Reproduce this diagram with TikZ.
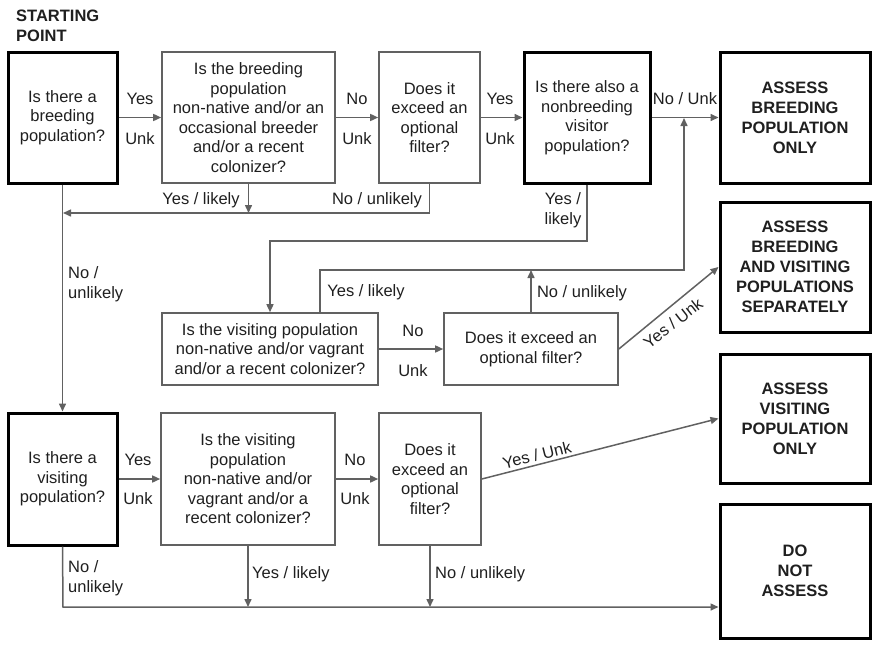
\documentclass[tikz,border=0pt]{standalone}
\usepackage{fontspec}
\setmainfont{Liberation Sans}
\usetikzlibrary{arrows.meta}
\definecolor{ink}{rgb}{0.12,0.12,0.12}
\definecolor{linegray}{rgb}{0.38,0.38,0.38}
\begin{document}
\begin{tikzpicture}[x=1pt,y=-1pt,
  txt/.style={font=\fontsize{16.5}{19.5}\selectfont, text=ink, align=center, inner sep=0pt},
  qbox/.style={txt, draw=linegray, line width=1.6pt},
  tbox/.style={txt, draw=black, line width=3pt},
  rbox/.style={tbox, font=\fontsize{16.5}{20}\selectfont\bfseries},
  conn/.style={draw=linegray, line width=1.5pt},
  arr/.style={conn, -{Triangle[length=8pt,width=7pt]}}
]
\useasboundingbox (0,0) rectangle (872,648);

% title
\node[txt, align=left, anchor=west, font=\fontsize{16.5}{20}\selectfont\bfseries] (start) at (16,26) {STARTING\\POINT};

% top row
\node[tbox, minimum width=109pt, minimum height=131pt] (b1) at (62.5,117.5) {Is there a\\breeding\\population?};
\node[qbox, minimum width=173pt, minimum height=131pt] (b2) at (248.5,117.5) {Is the breeding\\population\\non-native and/or an\\occasional breeder\\and/or a recent\\colonizer?};
\node[qbox, minimum width=101pt, minimum height=131pt] (b3) at (429.5,117.5) {Does it\\exceed an\\optional\\filter?};
\node[tbox, minimum width=126pt, minimum height=131pt] (b4) at (587,117.5) {Is there also a\\nonbreeding\\visitor\\population?};
\node[rbox, minimum width=150pt, minimum height=131pt] (r1) at (795,117.5) {ASSESS\\BREEDING\\POPULATION\\ONLY};

% result boxes
\node[rbox, minimum width=150pt, minimum height=130pt] (r2) at (795,267) {ASSESS\\BREEDING\\AND VISITING\\POPULATIONS\\SEPARATELY};
\node[rbox, minimum width=150pt, minimum height=129pt] (r3) at (795,418.5) {ASSESS\\VISITING\\POPULATION\\ONLY};
\node[rbox, minimum width=150pt, minimum height=134pt] (r4) at (795,571) {DO\\NOT\\ASSESS};

% middle row
\node[qbox, minimum width=216pt, minimum height=72pt] (m1) at (270,349) {Is the visiting population\\non-native and/or vagrant\\and/or a recent colonizer?};
\node[qbox, minimum width=174pt, minimum height=72pt] (m2) at (531,349) {Does it exceed an\\optional filter?};

% bottom row
\node[tbox, minimum width=109pt, minimum height=132pt] (c1) at (62.5,479) {Is there a\\visiting\\population?};
\node[qbox, minimum width=174pt, minimum height=132pt] (c2) at (248,479) {Is the visiting\\population\\non-native and/or\\vagrant and/or a\\recent colonizer?};
\node[qbox, minimum width=102pt, minimum height=132pt] (c3) at (430,479) {Does it\\exceed an\\optional\\filter?};

% junction coordinates
\coordinate (j4) at (63,213);
\coordinate (j1) at (270,241);
\coordinate (m1y) at (320,313);
\coordinate (j2) at (684,270);
\coordinate (j3) at (684,118);
\coordinate (j5) at (63,607);

% top row connectors
\draw[arr] (b1.east) -- (b2.west);
\draw[arr] (b2.east) -- (b3.west);
\draw[arr] (b3.east) -- (b4.west);
\draw[arr] (b4.east) -- (r1.west);
\node[txt] (l1y) at (140,99) {Yes};
\node[txt] (l1u) at (140,139) {Unk};
\node[txt] (l2n) at (357,99) {No};
\node[txt] (l2u) at (357,139) {Unk};
\node[txt] (l3y) at (500,99) {Yes};
\node[txt] (l3u) at (500,139) {Unk};
\node[txt] (l4) at (685,99) {No / Unk};

% return lines to breeding column
\draw[arr] (b3.south) |- (j4);
\draw[arr] (b2.south) -- (b2.south |- j4);
\node[txt] (l5) at (201,200) {Yes / likely};
\node[txt] (l6) at (377,200) {No / unlikely};
\draw[arr] (b1.south) -- (c1.north);
\node[txt, align=left, anchor=west] (l7) at (68,284) {No /\\unlikely};

% nonbreeding visitor branch
\draw[arr] (b4.south) |- (j1) -- (m1.north);
\node[txt] (l8) at (563,210) {Yes /\\likely};
\draw[arr] (m1y) |- (j2) -- (j3);
\node[txt] (l9) at (366,292) {Yes / likely};
\draw[arr] (m2.north) -- (m2.north |- j2);
\node[txt] (l10) at (582,293) {No / unlikely};
\draw[arr] (m1.east) -- (m2.west);
\node[txt] (l11n) at (413,331) {No};
\node[txt] (l11u) at (413,371) {Unk};
\draw[arr] (m2.east) -- (r2.west);
\node[txt, rotate=38] (l12) at (673,323) {Yes / Unk};

% bottom row connectors
\draw[arr] (c1.east) -- (c2.west);
\draw[arr] (c2.east) -- (c3.west);
\node[txt] (l13y) at (138,460) {Yes};
\node[txt] (l13u) at (138,499) {Unk};
\node[txt] (l14n) at (355,460) {No};
\node[txt] (l14u) at (355,499) {Unk};
\draw[arr] (c3.east) -- (r3.west);
\node[txt, rotate=14] (l15) at (537,455) {Yes / Unk};

\draw[arr] (c1.south) -- (j5) -- (r4.west |- j5);
\draw[arr] (c2.south) -- (c2.south |- j5);
\draw[arr] (c3.south) -- (c3.south |- j5);
\node[txt, align=left, anchor=west] (l16) at (68,578) {No /\\unlikely};
\node[txt, anchor=west] (l17) at (252,574) {Yes / likely};
\node[txt, anchor=west] (l18) at (435,574) {No / unlikely};
\end{tikzpicture}
\end{document}
